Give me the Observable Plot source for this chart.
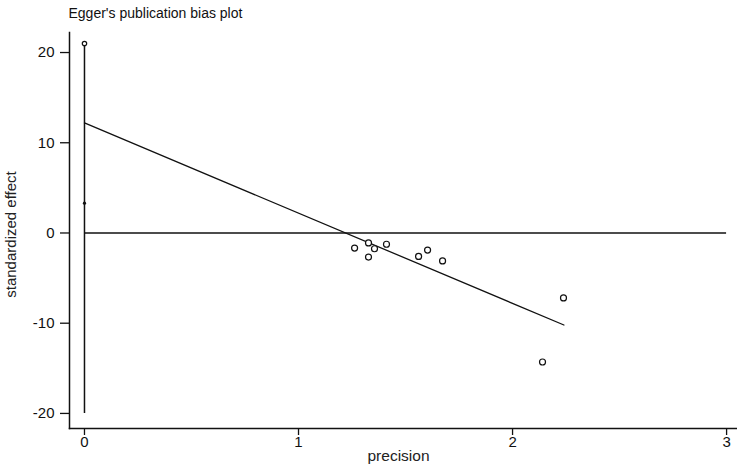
<!DOCTYPE html>
<html><head><meta charset="utf-8">
<script src="https://cdn.jsdelivr.net/npm/d3@7"></script>
<script src="https://cdn.jsdelivr.net/npm/@observablehq/plot@0.6"></script>
<style>
body{margin:0;background:#fff;}
svg{font-family:"Liberation Sans",Arial,sans-serif;}
</style>
</head><body>
<div id="chart"></div>
<script>
const precision = [1.262, 1.327, 1.355, 1.327, 1.411, 1.561, 1.603, 1.673, 2.238, 2.14];
const stdEffect = [-1.67, -1.1, -1.75, -2.67, -1.25, -2.6, -1.9, -3.1, -7.2, -14.3];
const fitX = [0, 2.24];
const fitY = [12.2, -10.2];
const ciX = 0;
const ciLow = -20;
const ciHigh = 21;
const interceptMark = 3.3;
const xTicks = [0, 1, 2, 3];
const yTicks = [-20, -10, 0, 10, 20];
const titleText = "Egger's publication bias plot";

const pts = precision.map((p, i) => ({x: p, y: stdEffect[i]}));
const fit = fitX.map((x, i) => ({x, y: fitY[i]}));

const plot = Plot.plot({
  width: 737, height: 469,
  marginLeft: 69, marginRight: 0, marginTop: 32, marginBottom: 41,
  style: {fontFamily: "Liberation Sans, Arial, sans-serif", color: "#111"},
  x: {domain: [-0.07, 3.051], ticks: xTicks, label: null},
  y: {domain: [-21.67, 22.22], ticks: yTicks, label: null},
  marks: [
    Plot.axisX({ticks: xTicks, tickSize: 7, tickPadding: 1, fontSize: 15, tickFormat: d => d, strokeWidth: 1.3}),
    Plot.axisY({ticks: yTicks, tickSize: 9, tickPadding: 6, fontSize: 15, tickFormat: d => d, strokeWidth: 1.3}),
    Plot.frame({anchor: "left", strokeWidth: 1.5}),
    Plot.frame({anchor: "bottom", strokeWidth: 1.5}),
    Plot.ruleY([0], {x1: 0, x2: 3, stroke: "#111", strokeWidth: 1.3}),
    Plot.ruleX([ciX], {y1: ciLow, y2: ciHigh, stroke: "#111", strokeWidth: 1.5}),
    Plot.line(fit, {x: "x", y: "y", stroke: "#111", strokeWidth: 1.3}),
    Plot.dot([{x: ciX, y: ciHigh}], {x: "x", y: "y", r: 2.2, stroke: "#111", fill: "white", strokeWidth: 1.2}),
    Plot.dot([{x: ciX, y: interceptMark}], {x: "x", y: "y", r: 1.6, fill: "#111", stroke: "none"}),
    Plot.dot(pts, {x: "x", y: "y", r: 3, stroke: "#111", fill: "white", strokeWidth: 1.2}),
    Plot.text([titleText], {frameAnchor: "top-left", dx: -1, dy: -24, fontSize: 14, textAnchor: "start", fill: "#111"}),
    Plot.text(["precision"], {frameAnchor: "bottom", dx: -5, dy: 32, fontSize: 15.5, fill: "#222"}),
    Plot.text(["standardized effect"], {frameAnchor: "left", dx: -58, dy: 4, rotate: -90, textAnchor: "middle", fontSize: 15, fill: "#222"})
  ]
});
document.getElementById("chart").appendChild(plot);
</script>
</body></html>
